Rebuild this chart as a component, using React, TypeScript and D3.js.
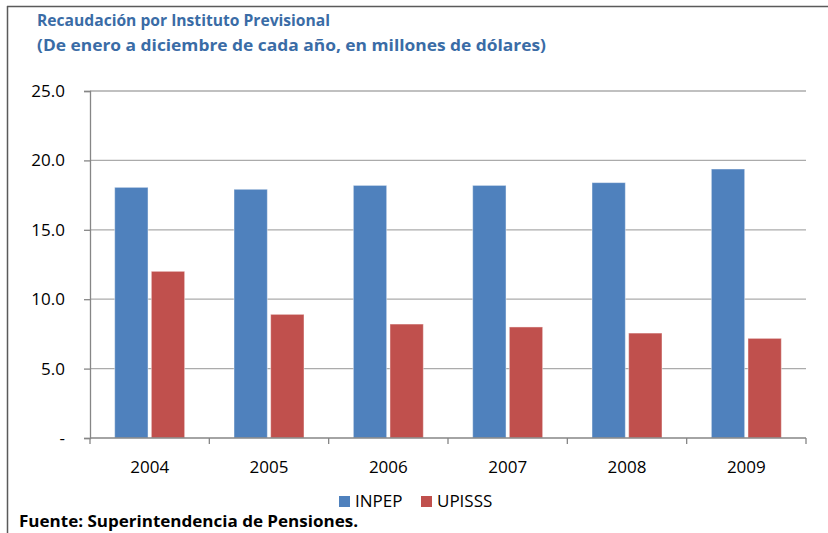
import React, { useEffect, useRef } from 'react';
import * as d3 from 'd3';

const years = ['2004', '2005', '2006', '2007', '2008', '2009'];
const seriesNames = ['INPEP', 'UPISSS'];
const inpep = [18.06, 17.92, 18.2, 18.2, 18.4, 19.38];
const upisss = [12.01, 8.91, 8.21, 8.0, 7.56, 7.18];
const yTicks = [0, 5, 10, 15, 20, 25];
const colors = ['#4F81BD', '#C0504D'];

const App = () => {
  const svgRef = useRef<SVGSVGElement>(null);

  useEffect(() => {
    const width = 828;
    const height = 533;
    const font = '"Open Sans", "Liberation Sans", sans-serif';
    const svg = d3.select(svgRef.current);
    svg.selectAll('*').remove();

    svg.append('rect').attr('width', width).attr('height', height).attr('fill', '#fff');

    // outer frame (top and left only)
    svg.append('line').attr('x1', 7).attr('x2', width).attr('y1', 6.5).attr('y2', 6.5)
      .attr('stroke', '#5a5a5a').attr('stroke-width', 1.5);
    svg.append('line').attr('x1', 7.5).attr('x2', 7.5).attr('y1', 6).attr('y2', height)
      .attr('stroke', '#5a5a5a').attr('stroke-width', 1.5);

    // title
    const title = svg.append('g').attr('font-family', font).attr('font-weight', 'bold')
      .attr('fill', '#3A6CA6').attr('font-size', 16);
    title.append('text').attr('x', 37).attr('y', 26)
      .attr('textLength', 293).attr('lengthAdjust', 'spacingAndGlyphs')
      .text('Recaudación por Instituto Previsional');
    title.append('text').attr('x', 37).attr('y', 51)
      .attr('textLength', 509).attr('lengthAdjust', 'spacingAndGlyphs')
      .text('(De enero a diciembre de cada año, en millones de dólares)');

    const left = 90, right = 806, top = 91, bottom = 438;

    const y = d3.scaleLinear().domain([0, 25]).range([bottom, top]);
    const x0 = d3.scaleBand().domain(years).range([left, right]).padding(0);
    const groupW = 70;
    const x1 = d3.scaleBand().domain(seriesNames)
      .range([(x0.bandwidth() - groupW) / 2, (x0.bandwidth() + groupW) / 2])
      .paddingInner(0.09);

    // gridlines
    svg.append('g').selectAll('line').data(yTicks.filter(t => t > 0)).enter().append('line')
      .attr('x1', left).attr('x2', right)
      .attr('y1', d => y(d)).attr('y2', d => y(d))
      .attr('stroke', '#ABABAB').attr('stroke-width', 1.3);

    // y axis
    const yAxis = svg.append('g').attr('transform', `translate(${left},0)`)
      .call(d3.axisLeft(y).tickValues(yTicks).tickSize(6)
        .tickFormat(d => (+d === 0 ? '-' : d3.format('.1f')(+d))));
    yAxis.select('.domain').attr('stroke', '#868686').attr('stroke-width', 1.3);
    yAxis.selectAll('.tick line').attr('stroke', '#868686').attr('stroke-width', 1.3);
    yAxis.selectAll('.tick text').attr('x', -25).attr('font-family', font)
      .attr('font-size', 17).attr('fill', '#000');

    // bars
    const data = years.map((yr, i) => ({ year: yr, values: [inpep[i], upisss[i]] }));
    const groups = svg.append('g').selectAll('g').data(data).enter().append('g')
      .attr('transform', d => `translate(${x0(d.year)},0)`);
    groups.selectAll('rect')
      .data(d => d.values.map((v, j) => ({ name: seriesNames[j], v, j })))
      .enter().append('rect')
      .attr('x', d => x1(d.name)!)
      .attr('width', x1.bandwidth())
      .attr('y', d => y(d.v))
      .attr('height', d => bottom - y(d.v))
      .attr('fill', d => colors[d.j])
      .attr('stroke', 'rgba(255,255,255,0.45)')
      .attr('stroke-width', 1);

    // x axis
    const xAxis = svg.append('g');
    xAxis.append('line').attr('x1', left).attr('x2', right).attr('y1', bottom).attr('y2', bottom)
      .attr('stroke', '#868686').attr('stroke-width', 1.3);
    const bounds = years.map(yr => x0(yr)!).concat([right]);
    xAxis.selectAll('line.tk').data(bounds).enter().append('line').attr('class', 'tk')
      .attr('x1', d => d).attr('x2', d => d).attr('y1', bottom).attr('y2', bottom + 6)
      .attr('stroke', '#868686').attr('stroke-width', 1.3);
    xAxis.selectAll('text').data(years).enter().append('text')
      .attr('x', d => x0(d)! + x0.bandwidth() / 2)
      .attr('y', 473)
      .attr('text-anchor', 'middle')
      .attr('font-family', font).attr('font-size', 17).attr('fill', '#000')
      .text(d => d);

    // legend
    const legendX = [339, 421];
    const legend = svg.append('g').selectAll('g').data(seriesNames).enter().append('g')
      .attr('transform', (d, i) => `translate(${legendX[i]},496)`);
    legend.append('rect').attr('width', 11).attr('height', 11).attr('fill', (d, i) => colors[i]);
    legend.append('text').attr('x', 16).attr('y', 11)
      .attr('font-family', font).attr('font-size', 17).attr('fill', '#000')
      .text(d => d);

    // source
    svg.append('text').attr('x', 19).attr('y', 527)
      .attr('font-family', font).attr('font-weight', 'bold').attr('font-size', 16)
      .attr('fill', '#000')
      .attr('textLength', 339).attr('lengthAdjust', 'spacingAndGlyphs')
      .text('Fuente: Superintendencia de Pensiones.');
  }, []);

  return (
    <svg ref={svgRef} width={828} height={533}
      style={{ position: 'absolute', left: 0, top: 0, display: 'block' }} />
  );
};

export default App;
